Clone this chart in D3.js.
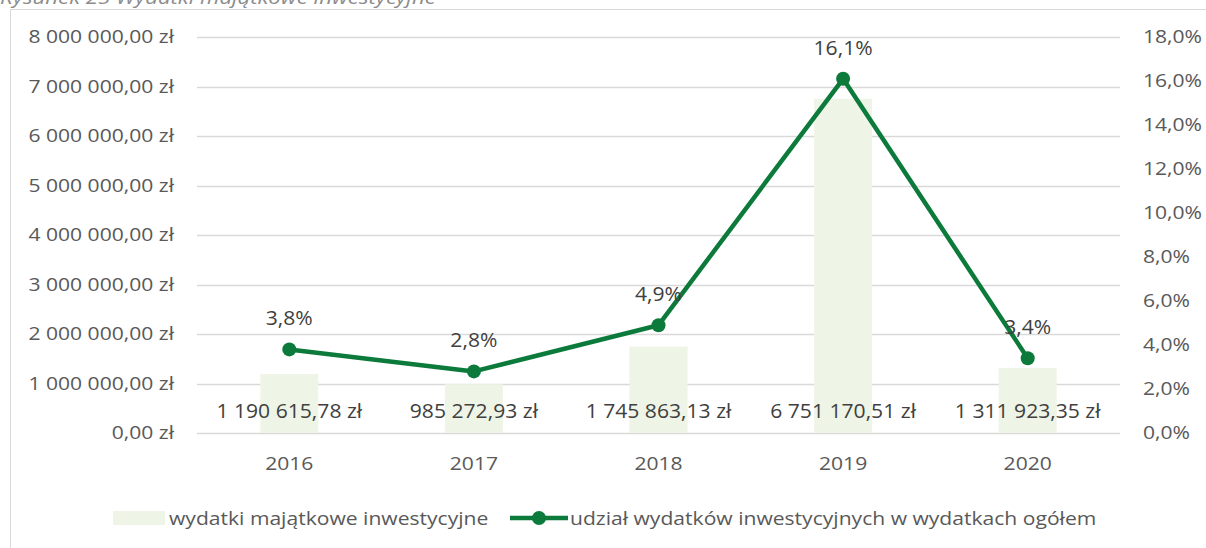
<!DOCTYPE html>
<html>
<head>
<meta charset="utf-8">
<script src="https://cdn.jsdelivr.net/npm/d3@7"></script>
<style>
  html, body { margin: 0; padding: 0; background: #fff; }
  svg { display: block; }
  text { font-family: "Open Sans", "Noto Sans", sans-serif; fill: #595959; }
</style>
</head>
<body>
<script>
// Investment spending (PLN) and its share in total spending, 2016–2020
const years = ["2016", "2017", "2018", "2019", "2020"];
const spending = [1190615.78, 985272.93, 1745863.13, 6751170.51, 1311923.35];
const share = [3.8, 2.8, 4.9, 16.1, 3.4];
const leftTicks = [0, 1000000, 2000000, 3000000, 4000000, 5000000, 6000000, 7000000, 8000000];
const rightTicks = [0, 2, 4, 6, 8, 10, 12, 14, 16, 18];
const seriesNames = ["wydatki majątkowe inwestycyjne", "udział wydatków inwestycyjnych w wydatkach ogółem"];
const title = "Rysunek 25 Wydatki majątkowe inwestycyjne";

const W = 1206, H = 548;
const plot = { left: 197, right: 1120, top: 37, bottom: 433 };
const FS = "18.5px";      // axis and legend text
const LFS = "20.5px";     // data labels
const SX = 1.14;          // horizontal widening of axis / legend text
const LSX = 1.03;         // horizontal widening of data labels

const svg = d3.select("body").append("svg").attr("width", W).attr("height", H);

// widen text horizontally around its own anchor point
function widen(sel, sx) {
  sel.attr("transform", function () {
    const x = +this.getAttribute("x") || 0, y = +this.getAttribute("y") || 0;
    return `translate(${x},${y}) scale(${sx},1) translate(${-x},${-y})`;
  });
}

// number formatting with spaces as thousands separators and comma decimals
const pl = d3.formatLocale({ decimal: ",", thousands: "\u00a0", grouping: [3], currency: ["", " zł"] });
const fmtMoney = v => pl.format(",.2f")(v).replace(/\u00a0/g, " ") + " zł";
const fmtPct1 = v => pl.format(".1f")(v) + "%";

// caption above the chart frame
svg.append("text").attr("x", 0).attr("y", 4)
  .style("font-style", "italic").style("font-size", "19px").style("fill", "#8c8c8c")
  .text(title).call(widen, 1.17);

// chart frame
svg.append("rect").attr("x", 10.5).attr("y", 9.5).attr("width", W + 10).attr("height", H + 10)
  .attr("fill", "#fff").attr("stroke", "#d9d9d9").attr("stroke-width", 1);

const x = d3.scaleBand().domain(years).range([plot.left, plot.right]);
const yL = d3.scaleLinear().domain([0, 8000000]).range([plot.bottom, plot.top]);
const yR = d3.scaleLinear().domain([0, 18]).range([plot.bottom, plot.top]);

// gridlines
svg.append("g").selectAll("line").data(leftTicks).join("line")
  .attr("x1", plot.left).attr("x2", plot.right)
  .attr("y1", d => Math.round(yL(d)) + 0.5).attr("y2", d => Math.round(yL(d)) + 0.5)
  .attr("stroke", "#d9d9d9").attr("stroke-width", 1.5);

// left axis
const axL = svg.append("g").attr("transform", `translate(${plot.left - 23},0)`)
  .call(d3.axisLeft(yL).tickValues(leftTicks).tickFormat(fmtMoney).tickSize(0).tickPadding(0));
axL.select(".domain").remove();
axL.selectAll("text").style("font-size", FS).style("fill", "#595959").call(widen, SX);

// right axis
const axR = svg.append("g").attr("transform", `translate(${plot.right + 23},0)`)
  .call(d3.axisRight(yR).tickValues(rightTicks).tickFormat(fmtPct1).tickSize(0).tickPadding(0));
axR.select(".domain").remove();
axR.selectAll("text").style("font-size", FS).style("fill", "#595959").call(widen, SX);

// category axis
const axX = svg.append("g").attr("transform", `translate(0,${plot.bottom + 24})`)
  .call(d3.axisBottom(x).tickSize(0).tickPadding(0));
axX.select(".domain").remove();
axX.selectAll("text").style("font-size", FS).style("fill", "#595959").call(widen, SX);

// bars
const barW = 58;
svg.append("g").selectAll("rect").data(years).join("rect")
  .attr("x", d => x(d) + x.bandwidth() / 2 - barW / 2)
  .attr("width", barW)
  .attr("y", (d, i) => yL(spending[i]))
  .attr("height", (d, i) => plot.bottom - yL(spending[i]))
  .attr("fill", "#eef4e6");

// bar value labels
svg.append("g").selectAll("text").data(years).join("text")
  .attr("x", d => x(d) + x.bandwidth() / 2)
  .attr("y", 418)
  .attr("text-anchor", "middle")
  .style("font-size", LFS).style("fill", "#404040")
  .text((d, i) => fmtMoney(spending[i]))
  .call(widen, LSX);

// share line
const cx = d => x(d) + x.bandwidth() / 2;
const line = d3.line().x((d, i) => cx(years[i])).y(d => yR(d));
svg.append("path").datum(share).attr("d", line)
  .attr("fill", "none").attr("stroke", "#0b7a3b").attr("stroke-width", 4.5)
  .attr("stroke-linejoin", "round");
svg.append("g").selectAll("circle").data(share).join("circle")
  .attr("cx", (d, i) => cx(years[i])).attr("cy", d => yR(d)).attr("r", 7)
  .attr("fill", "#0b7a3b");

// share labels
svg.append("g").selectAll("text").data(share).join("text")
  .attr("x", (d, i) => cx(years[i]))
  .attr("y", d => yR(d) - 24)
  .attr("text-anchor", "middle")
  .style("font-size", LFS).style("fill", "#404040")
  .text(d => fmtPct1(d))
  .call(widen, LSX);

// legend
const lg = svg.append("g");
lg.append("rect").attr("x", 113).attr("y", 511).attr("width", 52).attr("height", 14).attr("fill", "#eef4e6");
lg.append("text").attr("x", 169).attr("y", 525).style("font-size", FS).text(seriesNames[0]).call(widen, SX);
lg.append("line").attr("x1", 510).attr("x2", 568).attr("y1", 518).attr("y2", 518)
  .attr("stroke", "#0b7a3b").attr("stroke-width", 4.5);
lg.append("circle").attr("cx", 539).attr("cy", 518).attr("r", 7).attr("fill", "#0b7a3b");
lg.append("text").attr("x", 570).attr("y", 525).style("font-size", FS).text(seriesNames[1]).call(widen, SX);
</script>
</body>
</html>
